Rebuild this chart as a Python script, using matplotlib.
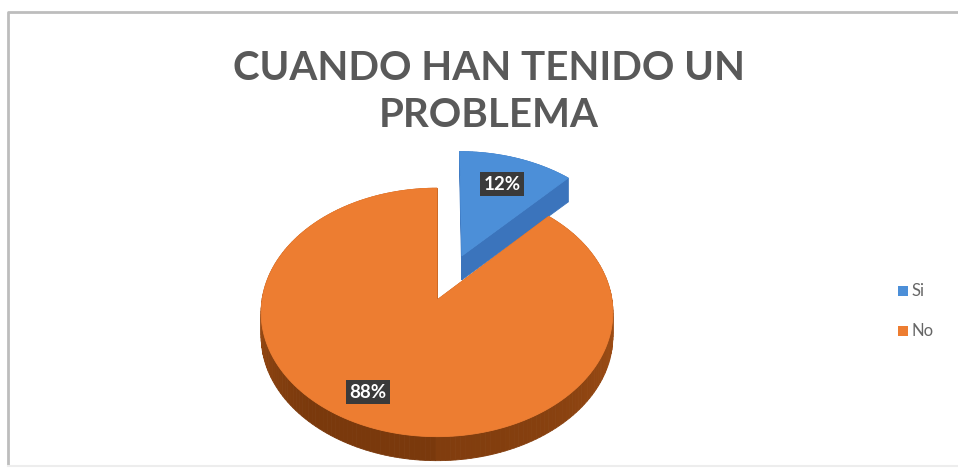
import numpy as np
import matplotlib.pyplot as plt
from matplotlib.patches import Polygon
from matplotlib.colors import to_rgb

# Data
labels = ["Si", "No"]
values = [12, 88]
title = "CUANDO HAN TENIDO UN\nPROBLEMA"

top_colors = ["#4C8FD8", "#ED7D31"]
cut_colors = ["#3B74BC", "#B85D1D"]
side_light = ["#3F79C0", "#C4631F"]
side_dark = ["#2C5C98", "#7A390C"]
explode = [0.40, 0.0]

fig = plt.figure(figsize=(9.58, 4.68), dpi=100)
ax = fig.add_axes([0, 0, 1, 1])
ax.set_xlim(0, 958)
ax.set_ylim(468, 0)
ax.axis("off")

# chart frame
ax.plot([8, 8, 958], [466, 12, 12], color="#BDBDBD", lw=2.0, solid_capstyle="butt")
ax.plot([8, 958], [466, 466], color="#EDEDED", lw=1.5)

# 3-D pie geometry (tilted disc with a little perspective)
cx, cy = 437, 300
rx, ry = 175, 123
persp = 0.10
depth = 24


def project(u, v, dz=0.0):
    d = 1 + persp * v
    return cx + rx * u / d, cy - ry * v / d + dz


def ring_point(theta, r, off, dz=0.0):
    t = np.radians(theta)
    return project(off[0] + r * np.sin(t), off[1] + r * np.cos(t), dz)


def shade(c1, c2, f):
    a = np.array(to_rgb(c1))
    b = np.array(to_rgb(c2))
    return tuple(a + (b - a) * f)


total = float(sum(values))
angles = np.concatenate([[0], np.cumsum(values) / total * 360.0])

for i, (a0, a1) in enumerate(zip(angles[:-1], angles[1:])):
    mid = np.radians((a0 + a1) / 2)
    off = (explode[i] * np.sin(mid), explode[i] * np.cos(mid))

    # outer rim side, darker towards the front and left
    thetas = np.linspace(a0, a1, int(max(4, (a1 - a0) / 1.5)))
    for t0, t1 in zip(thetas[:-1], thetas[1:]):
        tm = np.radians((t0 + t1) / 2)
        f = (1 - np.cos(tm)) / 2
        f = float(np.clip(f * (1.15 if np.sin(tm) < 0 else 0.9), 0, 1))
        col = shade(side_light[i], side_dark[i], f)
        pts = [ring_point(t0, 1, off), ring_point(t1, 1, off),
               ring_point(t1, 1, off, depth), ring_point(t0, 1, off, depth)]
        ax.add_patch(Polygon(pts, closed=True, facecolor=col, edgecolor=col, lw=0.6))

    # cut faces of the slice
    apex = project(*off)
    apex_b = project(*off, depth)
    for t in (a0, a1):
        pts = [apex, ring_point(t, 1, off), ring_point(t, 1, off, depth), apex_b]
        ax.add_patch(Polygon(pts, closed=True, facecolor=cut_colors[i],
                             edgecolor=cut_colors[i], lw=0.6))

    # top face
    arc = [ring_point(t, 1, off) for t in np.linspace(a0, a1, 200)]
    ax.add_patch(Polygon([apex] + arc, closed=True, facecolor=top_colors[i],
                         edgecolor=top_colors[i], lw=0.6))

# percentage labels
label_pos = [(502, 184), (368, 392)]
for v, (x, y) in zip(values, label_pos):
    ax.text(x, y, f"{round(v / total * 100)}%", ha="center", va="center",
            fontsize=13.5, fontweight="bold", color="white", family="Lato",
            bbox=dict(boxstyle="square,pad=0.2", facecolor="#3A3A3A", edgecolor="none"))

# title
ax.text(489, 92, title, ha="center", va="center", fontsize=29, fontweight="bold",
        color="#595959", family="Lato", linespacing=1.35)

# legend
for j, (lab, y) in enumerate(zip(labels, [291, 331])):
    ax.scatter([903], [y], marker="s", s=45, color=top_colors[j], edgecolor="none")
    ax.text(912, y, lab, ha="left", va="center", fontsize=12, color="#666666", family="Lato")

fig.savefig("out.png", dpi=100)
